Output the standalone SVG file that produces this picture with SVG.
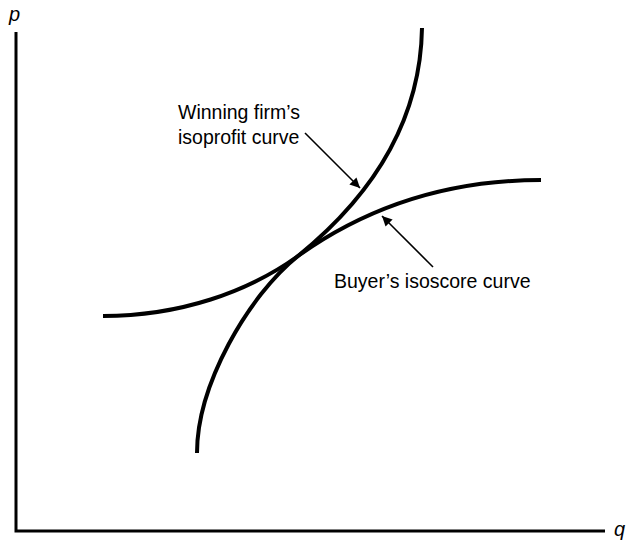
<svg xmlns="http://www.w3.org/2000/svg" width="626" height="541" viewBox="0 0 626 541">
<style>
.axis{stroke:#000;stroke-width:3;fill:none}
.curve{stroke:#000;stroke-width:4;fill:none;stroke-linecap:butt}
.lead{stroke:#000;stroke-width:1.6;fill:none}
text{font-family:"Liberation Sans",Arial,sans-serif;font-size:19.5px;fill:#000}
.ax{font-style:italic;font-size:20px}
</style>
<defs>
<marker id="ah" viewBox="0 0 10 10" refX="10" refY="5" markerWidth="10" markerHeight="10" markerUnits="userSpaceOnUse" orient="auto">
<path d="M0,0 L10,5 L0,10 z" fill="#000"/>
</marker>
</defs>
<g id="axes">
<path class="axis" d="M16,32 V531 H605"/>
<text class="ax" x="9" y="21">p</text>
<text class="ax" x="614" y="536">q</text>
</g>
<g id="isoprofit">
<path class="curve" d="M197,453 C197,385 248,296 298,256 C335,226 420,150 422,28"/>
</g>
<g id="isoscore">
<path class="curve" d="M103,316 C180,316 248,292 298,256 C340,226 420,180 541,180"/>
</g>
<g id="label-isoprofit">
<text x="178" y="119">Winning firm’s</text>
<text x="178" y="144">isoprofit curve</text>
</g>
<g id="label-isoscore">
<text x="334" y="288">Buyer’s isoscore curve</text>
</g>
<g id="connectors">
<line class="lead" x1="305" y1="133" x2="360" y2="188" marker-end="url(#ah)"/>
<line class="lead" x1="433" y1="267" x2="382" y2="216" marker-end="url(#ah)"/>
</g>
</svg>
